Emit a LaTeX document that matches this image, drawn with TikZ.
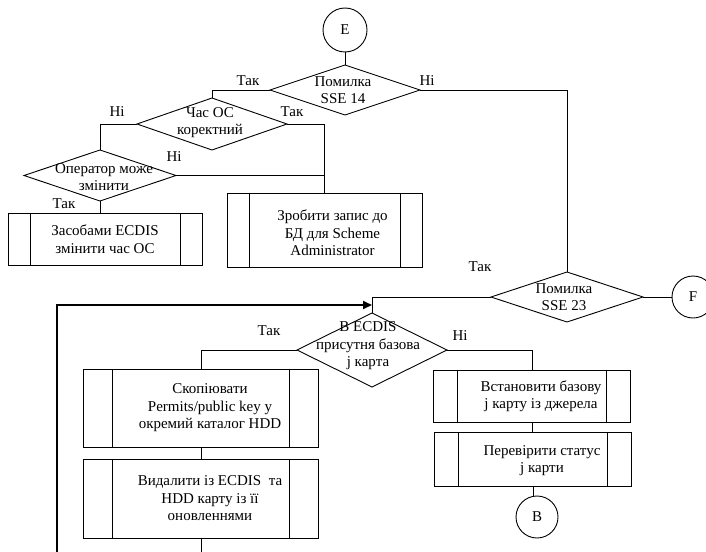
\documentclass[tikz,border=0pt]{standalone}
\usepackage{fontspec}
\setmainfont{Liberation Serif}
\usetikzlibrary{shapes.geometric, arrows.meta}
\tikzset{procoff/.initial=23pt}
\begin{document}
\begin{tikzpicture}[x=1pt,y=-1pt,
  every node/.style={font=\fontsize{15}{17.5}\selectfont},
  ln/.style={line width=0.9pt},
  dia/.style={draw, diamond, inner sep=0pt, outer sep=0pt, line width=0.9pt},
  proc/.style={draw, rectangle, inner sep=0pt, outer sep=0pt, line width=0.9pt,
    path picture={\draw[line width=0.9pt]
      ([xshift=\pgfkeysvalueof{/tikz/procoff}]path picture bounding box.north west) --
      ([xshift=\pgfkeysvalueof{/tikz/procoff}]path picture bounding box.south west)
      ([xshift=-\pgfkeysvalueof{/tikz/procoff}]path picture bounding box.north east) --
      ([xshift=-\pgfkeysvalueof{/tikz/procoff}]path picture bounding box.south east);}},
  conn/.style={draw, circle, inner sep=0pt, outer sep=0pt, minimum size=42pt, line width=0.9pt},
  txt/.style={align=center, inner sep=0pt},
  lbl/.style={inner sep=0pt}]
\useasboundingbox (0,0) rectangle (706,551);

% connectors (circles)
\node[conn, minimum size=44pt] (E) at (345,30) {E};
\node[conn] (F) at (693,297) {F};
\node[conn] (B) at (537,517) {B};

% diamonds
\node[dia, minimum width=150pt, minimum height=50pt,
  label={[txt, xshift=-2pt]center:{Помилка\\SSE 14}}] (d1) at (345,90) {};
\node[dia, minimum width=150pt, minimum height=52pt,
  label={[txt, xshift=-2pt, yshift=1.5pt]center:{Час ОС\\коректний}}] (d2) at (212,124) {};
\node[dia, minimum width=152pt, minimum height=51pt,
  label={[txt, xshift=4pt, yshift=-1.5pt]center:{Оператор може\\змінити}}] (d3) at (100,175.5) {};
\node[dia, minimum width=152pt, minimum height=50pt,
  label={[txt, xshift=-3pt]center:{Помилка\\SSE 23}}] (d4) at (567,297) {};
\node[dia, minimum width=150pt, minimum height=74pt,
  label={[txt, xshift=-4pt, yshift=4pt]center:{В ECDIS\\присутня базова\\j карта}}] (d5) at (372,350) {};

% process boxes
\node[proc, procoff=22pt, minimum width=194pt, minimum height=52pt,
  label={[txt]center:{Засобами ECDIS\\змінити час ОС}}] (box1) at (105,239) {};
\node[proc, procoff=22pt, minimum width=195pt, minimum height=74pt,
  label={[txt, xshift=8pt, yshift=-3pt]center:{Зробити запис до\\БД для Scheme\\Administrator}}] (box2) at (324.5,230) {};
\node[proc, procoff=29pt, minimum width=235pt, minimum height=78pt,
  label={[txt, xshift=9pt]center:{Скопіювати\\Permits/public key у\\окремий каталог HDD}}] (box3) at (201,408) {};
\node[proc, procoff=29pt, minimum width=235pt, minimum height=79pt,
  label={[txt, xshift=9pt]center:{Видалити із ECDIS~~та\\HDD карту із її\\оновленнями}}] (box4) at (201,498.5) {};
\node[proc, procoff=24pt, minimum width=197pt, minimum height=52pt,
  label={[txt, xshift=9pt]center:{Встановити базову\\j карту із джерела}}] (box5) at (532,396) {};
\node[proc, procoff=24pt, minimum width=197pt, minimum height=54pt,
  label={[txt, xshift=9pt, yshift=-1.5pt]center:{Перевірити статус\\j карти}}] (box6) at (533,459) {};

% branch labels
\node[lbl] (t1) at (248,81) {Так};
\node[lbl] (n1) at (427,81) {Ні};
\node[lbl] (n2) at (117,112) {Ні};
\node[lbl] (t2) at (292,112) {Так};
\node[lbl] (n3) at (174,157) {Ні};
\node[lbl] (t3) at (64,204) {Так};
\node[lbl] (t4) at (480,267) {Так};
\node[lbl] (t5) at (269,331) {Так};
\node[lbl] (n5) at (460,336) {Ні};

% free ends
\coordinate (end4) at (201,560);
\coordinate (lb) at (57,560);
\coordinate (lt) at (57,305);

% connector lines
\draw[ln] (E.south) -- (d1.north);
\draw[ln] (d1.west) -| (d2.north);
\draw[ln] (d2.west) -| (d3.north);
\draw[ln] (d3.south) -- (d3.south |- box1.north);
\draw[ln] (d2.east) -| (box2.north);
\draw[ln] (d3.east) -- (d3.east -| box2.north);
\draw[ln] (d1.east) -| (d4.north);
\draw[ln] (d4.east) -- (F.west);
\draw[ln] (d4.west) -| (d5.north);
\draw[ln] (d5.west) -| (box3.north);
\draw[ln] (box3.south) -- (box4.north);
\draw[ln] (box4.south) -- (end4);
\draw[ln] (d5.east) -| (box5.north);
\draw[ln] (box5.south) -- (box5.south |- box6.north);
\draw[ln] (box6.south) -- (box6.south |- B.north);
\draw[line width=1.8pt, -{Triangle[length=9pt,width=8pt]}] (lb) -- (lt) -- (lt -| d5.north);
\end{tikzpicture}
\end{document}
